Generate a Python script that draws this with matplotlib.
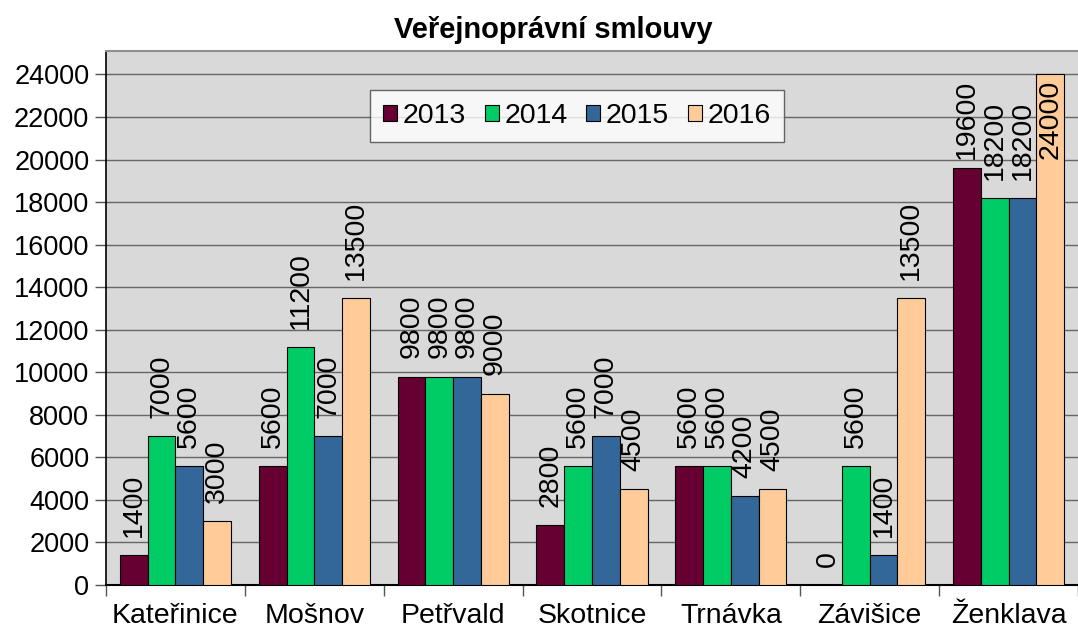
import matplotlib
matplotlib.use("Agg")
import matplotlib.pyplot as plt
import numpy as np

categories = ["Kateřinice", "Mošnov", "Petřvald", "Skotnice", "Trnávka", "Závišice", "Ženklava"]
years = ["2013", "2014", "2015", "2016"]
v2013 = [1400, 5600, 9800, 2800, 5600, 0, 19600]
v2014 = [7000, 11200, 9800, 5600, 5600, 5600, 18200]
v2015 = [5600, 7000, 9800, 7000, 4200, 1400, 18200]
v2016 = [3000, 13500, 9000, 4500, 4500, 13500, 24000]
series = [v2013, v2014, v2015, v2016]
colors = ["#660033", "#00CC66", "#336699", "#FFCC99"]
title = "Veřejnoprávní smlouvy"

plt.rcParams['font.family'] = ['Liberation Sans', 'DejaVu Sans']

W, H = 1078, 633
fig = plt.figure(figsize=(W / 100, H / 100), dpi=100)
L, R, T, B = 106, 1078, 51, 585
ax = fig.add_axes([L / W, 1 - B / H, (R - L) / W, (B - T) / H])
ax.set_facecolor("#D9D9D9")

ymax = 25100
ax.set_ylim(0, ymax)
ax.set_xlim(0, len(categories))

n = len(series)
group = 0.8
bw = group / n
x = np.arange(len(categories)) + 0.5

gap = 850          # data units above bar
lab_len = 3620     # approx length of a 5-digit rotated label in data units
cap = 23765        # highest label top
for i, (vals, col) in enumerate(zip(series, colors)):
    xs = x - group / 2 + bw * (i + 0.5)
    lws = [0.8 if v > 0 else 0 for v in vals]
    ax.bar(xs, vals, width=bw, color=col, edgecolor="black", linewidth=lws,
           label=years[i], zorder=3)
    for xi, v in zip(xs, vals):
        s = str(v)
        length = lab_len * len(s) / 5
        if v + gap + length > cap:
            ax.text(xi, cap, s, rotation=90, ha="center", va="top",
                    fontsize=20.5, zorder=4)
        else:
            ax.text(xi, v + gap, s, rotation=90, ha="center", va="bottom",
                    fontsize=20.5, zorder=4)

ax.set_yticks(np.arange(0, 24001, 2000))
ax.yaxis.grid(True, color="#666666", linewidth=1.0, zorder=0)
ax.set_axisbelow(True)
ax.tick_params(axis="y", labelsize=19.5, length=8, width=1, color="#555555", pad=4)

ax.set_xticks(np.arange(0, len(categories) + 1))
ax.set_xticklabels([])
ax.set_xticks(x, minor=True)
ax.set_xticklabels(categories, minor=True)
ax.tick_params(axis="x", which="major", length=8, width=1, color="#555555")
ax.tick_params(axis="x", which="minor", length=0, labelsize=20.5, pad=13)

ax.spines["right"].set_visible(False)
ax.spines["top"].set_color("#909090")
ax.spines["top"].set_linewidth(1.5)
ax.spines["left"].set_color("black")
ax.spines["bottom"].set_color("black")
ax.spines["left"].set_linewidth(1.2)
ax.spines["bottom"].set_linewidth(1.5)

leg = ax.legend(loc="upper left", bbox_to_anchor=((370 - L) / (R - L), 1 - (90 - T) / (B - T)),
                ncol=4, fontsize=20.5, frameon=True, fancybox=False, edgecolor="#444444",
                handlelength=0.5, handleheight=0.5, handletextpad=0.2, columnspacing=0.65,
                borderpad=0.45, borderaxespad=0)
leg.get_frame().set_linewidth(1.0)
leg.set_zorder(5)

fig.text(553 / W, 1 - 30 / H, title, ha="center", va="center", fontsize=21, fontweight="bold")

fig.savefig("out.png", dpi=100)
